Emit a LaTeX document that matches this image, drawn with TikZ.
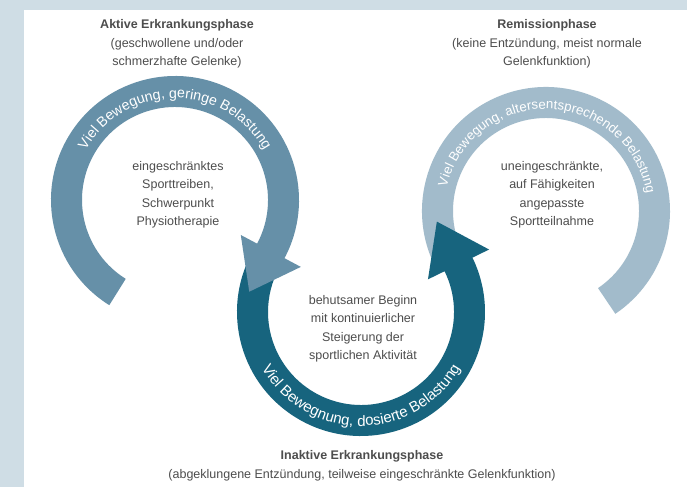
\documentclass[tikz,border=0pt]{standalone}
\usepackage{fontspec}
\setmainfont{Liberation Sans}
\usetikzlibrary{calc,decorations.text}
\definecolor{bgstrip}{HTML}{CFDDE5}
\definecolor{activec}{HTML}{6690A8}
\definecolor{inactc}{HTML}{17647E}
\definecolor{remc}{HTML}{A2BBCB}
\definecolor{txtc}{HTML}{4D4D4D}
\newcommand\curvL{\fontsize{14.2}{14}\selectfont\color{white}}
\newcommand\curvR{\fontsize{13.3}{14}\selectfont\color{white}}
\newcommand\curvB{\fontsize{15}{14}\selectfont\color{white}}
\begin{document}
\begin{tikzpicture}[x=1pt,y=1pt,
  txt/.style={font=\fontsize{12.5}{18.5}\selectfont, text=txtc, align=center, inner sep=0pt},
  bandL/.style={fill=activec},
  bandB/.style={fill=inactc},
  bandR/.style={fill=remc}]
\useasboundingbox (0,0) rectangle (687,487);
\fill[bgstrip] (0,0) rectangle (687,487);
\fill[white] (24,0) rectangle (687,477);

\coordinate (L) at (175,287);
\coordinate (R) at (546,276);
\coordinate (B) at (361,175);

% right (remission) arc
\fill[bandR] ($(R)+(205:124pt)$) arc[start angle=205,end angle=-56,radius=124pt]
  -- ($(R)+(-56:93pt)$) arc[start angle=-56,end angle=205,radius=93pt] -- cycle;

% bottom (inactive) arc with head
\fill[bandB] ($(B)+(148:124pt)$) arc[start angle=148,end angle=386,radius=124pt]
  -- ($(B)+(26:142.5pt)$) -- ($(B)+(50:118pt)$) -- ($(B)+(26:74.5pt)$)
  -- ($(B)+(26:93pt)$) arc[start angle=386,end angle=148,radius=93pt] -- cycle;

% left (active) arc with head
\fill[bandL] ($(L)+(238:124pt)$) arc[start angle=238,end angle=-28,radius=124pt]
  -- ($(L)+(-28:142.5pt)$) -- ($(L)+(-51:118pt)$) -- ($(L)+(-28:74.5pt)$)
  -- ($(L)+(-28:93pt)$) arc[start angle=-28,end angle=238,radius=93pt] -- cycle;

% curved texts
\path[decorate,decoration={text along path,text align=center,
  text={|\curvL|Viel Bewegung, geringe Belastung}}]
  ($(L)+(180:102pt)$) arc[start angle=180,end angle=0,radius=102pt];
\path[decorate,decoration={text along path,text align=center,
  text={|\curvR|Viel Bewegung, altersentsprechende Belastung}}]
  ($(R)+(178:102pt)$) arc[start angle=178,end angle=-2,radius=102pt];
\path[decorate,decoration={text along path,text align=center,
  text={|\curvB|Viel Bewegnung, dosierte Belastung}}]
  ($(B)+(180:114pt)$) arc[start angle=180,end angle=360,radius=114pt];

% titles
\node[txt] (tA) at (177,443) {\textbf{Aktive Erkrankungsphase}\\(geschwollene und/oder\\schmerzhafte Gelenke)};
\node[txt] (tR) at (547,443) {\textbf{Remissionphase}\\(keine Entzündung, meist normale\\Gelenkfunktion)};
\node[txt] (tB) at (362,21) {\textbf{Inaktive Erkrankungsphase}\\(abgeklungene Entzündung, teilweise eingeschränkte Gelenkfunktion)};

% inner texts
\node[txt] (iA) at (178,292) {eingeschränktes\\Sporttreiben,\\Schwerpunkt\\Physiotherapie};
\node[txt] (iR) at (552,292) {uneingeschränkte,\\auf Fähigkeiten\\angepasste\\Sportteilnahme};
\node[txt] (iB) at (363,158) {behutsamer Beginn\\mit kontinuierlicher\\Steigerung der\\sportlichen Aktivität};
\end{tikzpicture}
\end{document}
